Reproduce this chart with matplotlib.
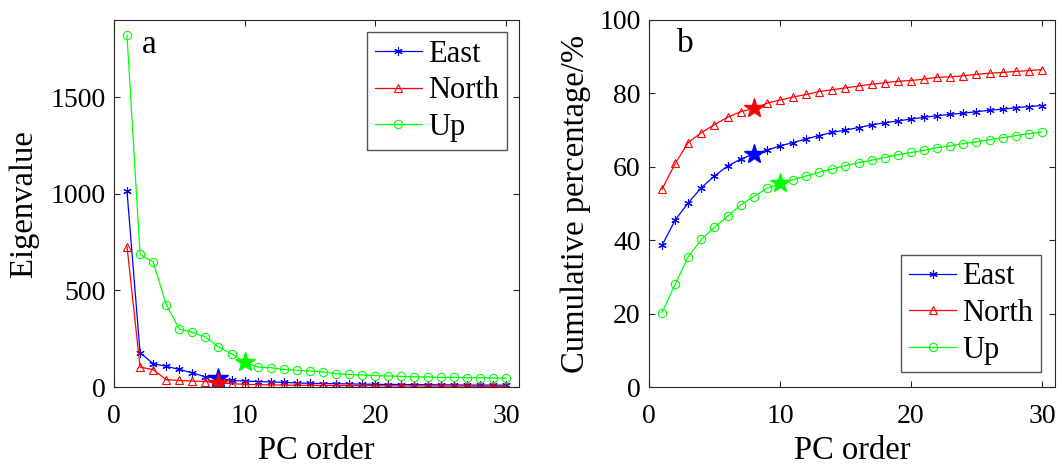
import matplotlib.pyplot as plt
import numpy as np

plt.rcParams["font.family"] = ["Liberation Serif", "DejaVu Serif"]

pc = np.arange(1, 31)

# eigenvalues (panel a)
eig_east = [1013, 177, 121, 107, 91, 74, 52, 47, 34, 31, 28, 26, 24, 21, 19,
            18, 17, 16, 15, 14, 13, 13, 12, 12, 11, 11, 10, 10, 10, 9]
eig_north = [727, 103, 90, 38, 34, 31, 28, 22, 17, 14, 12, 11, 10, 9, 9,
             8, 8, 7, 7, 7, 6, 6, 6, 5, 5, 5, 5, 4, 4, 4]
eig_up = [1820, 686, 648, 427, 300, 283, 259, 207, 172, 129, 103, 100, 91, 86, 83,
          78, 69, 65, 62, 59, 57, 55, 53, 52, 50, 50, 48, 48, 47, 45]

# cumulative percentage (panel b)
cum_east = [38.6, 45.5, 50.2, 54.3, 57.5, 60.2, 62.1, 63.5, 64.5, 65.7, 66.6, 67.6,
            68.5, 69.4, 70.0, 70.7, 71.4, 72.0, 72.5, 73.0, 73.5, 73.9, 74.3, 74.6,
            75.0, 75.4, 75.7, 76.1, 76.4, 76.7]
cum_north = [53.9, 60.9, 66.6, 69.3, 71.5, 73.5, 75.0, 75.9, 77.3, 78.2, 79.0, 79.7,
             80.5, 81.0, 81.5, 82.0, 82.5, 82.9, 83.3, 83.5, 83.9, 84.4, 84.5, 84.8,
             85.2, 85.5, 85.7, 86.0, 86.2, 86.5]
cum_up = [20.3, 28.0, 35.5, 40.2, 43.5, 46.5, 49.6, 51.9, 54.1, 55.5, 56.5, 57.5,
          58.5, 59.4, 60.3, 61.1, 61.8, 62.5, 63.3, 63.9, 64.5, 65.2, 65.7, 66.3,
          66.8, 67.4, 67.9, 68.5, 69.0, 69.5]

# selected number of PCs (stars)
sel_east, sel_north, sel_up = 8, 8, 10

names = ["East", "North", "Up"]
colors = ["#0000ff", "#ff0000", "#00ff00"]
markers = [(6, 2, 0), "^", "o"]
sels = [sel_east, sel_north, sel_up]

fig = plt.figure(figsize=(10.62, 4.66), dpi=100)
ax1 = fig.add_axes([0.1073, 0.1695, 0.3814, 0.7876])
ax2 = fig.add_axes([0.6111, 0.1695, 0.3823, 0.7876])


def draw(ax, series):
    for vals, name, c, m, s in zip(series, names, colors, markers, sels):
        ax.plot(pc, vals, color=c, marker=m, markersize=6,
                markerfacecolor="none", markeredgewidth=0.8,
                linewidth=0.9, label=name)
        ax.plot(pc[s - 1], vals[s - 1], marker="*", color=c, markersize=15,
                linestyle="none")
    ax.set_xlim(0, 31)
    ax.set_xticks([0, 10, 20, 30])
    ax.set_xlabel("PC order", fontsize=23.5, labelpad=5)
    ax.tick_params(direction="in", top=True, right=True, labelsize=20,
                   length=4, color="#262626", pad=6)
    ax.tick_params(axis="x", pad=12)
    for sp in ax.spines.values():
        sp.set_color("#262626")
        sp.set_linewidth(0.8)


leg_kw = dict(fontsize=22, handlelength=1.55, handletextpad=0.2,
              labelspacing=0.25, borderpad=0.25, borderaxespad=0,
              fancybox=False, edgecolor="#555555", framealpha=1)

draw(ax1, [eig_east, eig_north, eig_up])
ax1.set_ylim(0, 1900)
ax1.set_yticks([0, 500, 1000, 1500])
ax1.set_ylabel("Eigenvalue", fontsize=23.5, labelpad=8)
ax1.text(0.068, 0.975, "a", transform=ax1.transAxes, fontsize=24, va="top")
ax1.legend(loc="upper right", bbox_to_anchor=(0.97, 0.967), **leg_kw)

draw(ax2, [cum_east, cum_north, cum_up])
ax2.set_ylim(0, 100)
ax2.set_yticks([0, 20, 40, 60, 80, 100])
ax2.set_ylabel("Cumulative percentage/%", fontsize=23.5, labelpad=6)
ax2.text(0.068, 0.978, "b", transform=ax2.transAxes, fontsize=24, va="top")
ax2.legend(loc="lower right", bbox_to_anchor=(0.966, 0.04), **leg_kw)

fig.savefig("out.png", dpi=100)
